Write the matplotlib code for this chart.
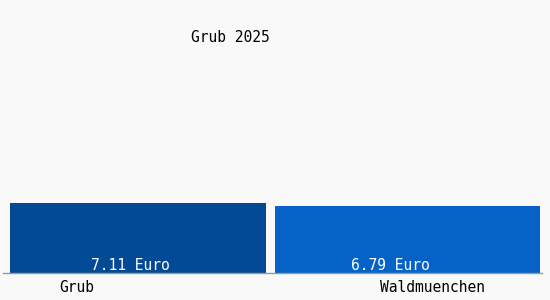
import matplotlib
matplotlib.use("Agg")
import matplotlib.pyplot as plt

# data
places = ["Grub", "Waldmuenchen"]
prices = [7.11, 6.79]
value_labels = ["7.11 Euro", "6.79 Euro"]
title = "Grub 2025"

bar_colors = ["#034a96", "#0563c8"]
bar_widths = [0.95, 0.983]
FONT = "DejaVu Sans Mono"

fig = plt.figure(figsize=(5.5, 3.0), dpi=100)
fig.patch.set_facecolor("#f9f9f9")

W, H = 550, 300
# axes spans x 3..542 px, y 5..273 px (from top)
ax = fig.add_axes([3.25 / W, (H - 273) / H, 539 / W, 268 / H])
ax.set_facecolor("#f9f9f9")

xs = list(range(len(places)))
ax.bar(xs, prices, width=bar_widths, color=bar_colors, zorder=2)
ax.set_xlim(-0.5, len(places) - 0.5)
ax.set_ylim(0, 7.11 * 268 / 70)

for s in ["top", "left", "right"]:
    ax.spines[s].set_visible(False)
ax.spines["bottom"].set_color("#999999")
ax.spines["bottom"].set_linewidth(1.0)
ax.set_xticks([])
ax.set_yticks([])

# value labels inside bars, near the bottom
for x, lab, dx in zip(xs, value_labels, [-0.03, -0.065]):
    ax.text(x + dx, 0.05, lab, ha="center", va="bottom", color="white",
            fontsize=10.5, family=FONT)

# category labels under the axis
for lab, px in zip(places, [77, 433]):
    fig.text(px / W, 1 - 288 / H, lab, ha="center", va="center",
             fontsize=10.5, family=FONT, color="black")

fig.text(230 / W, 1 - 38 / H, title, ha="center", va="center",
         fontsize=10.5, family=FONT, color="black")

fig.savefig("out.png", dpi=100, facecolor=fig.get_facecolor())
